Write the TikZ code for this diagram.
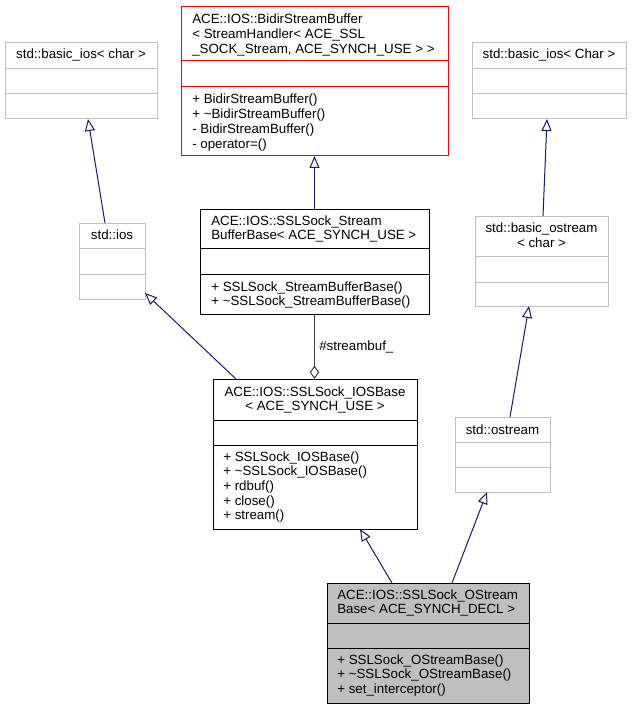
\documentclass[tikz,border=0pt]{standalone}
\usepackage{fontspec}
\setmainfont{Liberation Sans}
\usetikzlibrary{arrows.meta,calc,fit}
\definecolor{grayline}{HTML}{BFBFBF}
\definecolor{edgeblue}{HTML}{191970}
\definecolor{agggray}{HTML}{404040}
\definecolor{fillgray}{HTML}{BFBFBF}
\begin{document}
\begin{tikzpicture}[x=0.75pt,y=-0.75pt,
  box/.style={draw,inner sep=0pt,outer sep=0pt,line width=0.75pt},
  graybox/.style={box,draw=grayline},
  redbox/.style={box,draw=red},
  blackbox/.style={box,draw=black},
  hilite/.style={box,draw=black,fill=fillgray},
  txt/.style={inner sep=0pt,font=\fontsize{10}{11}\selectfont},
  ltxt/.style={txt,anchor=base west},
  ctxt/.style={txt,anchor=base},
  inh/.style={draw=edgeblue,line width=0.75pt,-{Triangle[open,length=9pt,width=7.5pt,fill=white]}},
  agg/.style={draw=agggray,line width=0.75pt,-{Diamond[open,length=10pt,width=7pt,fill=white]}}
]
\useasboundingbox (0,0) rectangle (632,709);

% std::basic_ios< char >
\node[graybox,fit={(5,43) (157,119)}] (bios) {};
\draw[grayline,line width=0.75pt] (bios.west |- 0,69) -- (bios.east |- 0,69);
\draw[grayline,line width=0.75pt] (bios.west |- 0,94) -- (bios.east |- 0,94);
\node[ctxt] (biost) at (81,59) {std::basic\_ios< char >};

% ACE::IOS::BidirStreamBuffer
\node[redbox,fit={(181,7) (448,156)}] (bidir) {};
\draw[red,line width=0.75pt] (bidir.west |- 0,61) -- (bidir.east |- 0,61);
\draw[red,line width=0.75pt] (bidir.west |- 0,87) -- (bidir.east |- 0,87);
\node[ltxt] (bidt1) at (192,24) {ACE::IOS::BidirStreamBuffer};
\node[ltxt] (bidt2) at (192,38.7) {< StreamHandler< ACE\_SSL};
\node[ltxt] (bidt3) at (192,53.4) {\_SOCK\_Stream, ACE\_SYNCH\_USE > >};
\node[ltxt] (bidm1) at (192,104) {+ BidirStreamBuffer()};
\node[ltxt] (bidm2) at (192,118.7) {+ \textasciitilde BidirStreamBuffer()};
\node[ltxt] (bidm3) at (192,133.4) {- BidirStreamBuffer()};
\node[ltxt] (bidm4) at (192,148.1) {- operator=()};

% std::basic_ios< Char >
\node[graybox,fit={(472,43) (626,119)}] (biosC) {};
\draw[grayline,line width=0.75pt] (biosC.west |- 0,69) -- (biosC.east |- 0,69);
\draw[grayline,line width=0.75pt] (biosC.west |- 0,94) -- (biosC.east |- 0,94);
\node[ctxt] (biosCt) at (549,59) {std::basic\_ios< Char >};

% SSLSock_StreamBufferBase
\node[blackbox,fit={(200,209) (429,314)}] (bufbase) {};
\draw[black,line width=0.75pt] (bufbase.west |- 0,248) -- (bufbase.east |- 0,248);
\draw[black,line width=0.75pt] (bufbase.west |- 0,274) -- (bufbase.east |- 0,274);
\node[ltxt] (bbt1) at (211,225) {ACE::IOS::SSLSock\_Stream};
\node[ltxt] (bbt2) at (211,239.7) {BufferBase< ACE\_SYNCH\_USE >};
\node[ltxt] (bbm1) at (211,291) {+ SSLSock\_StreamBufferBase()};
\node[ltxt] (bbm2) at (211,305.7) {+ \textasciitilde SSLSock\_StreamBufferBase()};

% std::ios
\node[graybox,fit={(79,223) (145,299)}] (ios) {};
\draw[grayline,line width=0.75pt] (ios.west |- 0,248) -- (ios.east |- 0,248);
\draw[grayline,line width=0.75pt] (ios.west |- 0,274) -- (ios.east |- 0,274);
\node[ctxt] (iost) at (112,239) {std::ios};

% std::basic_ostream< char >
\node[graybox,fit={(475,216) (608,306)}] (bostream) {};
\draw[grayline,line width=0.75pt] (bostream.west |- 0,256) -- (bostream.east |- 0,256);
\draw[grayline,line width=0.75pt] (bostream.west |- 0,282) -- (bostream.east |- 0,282);
\node[ctxt] (bost1) at (541.5,233) {std::basic\_ostream};
\node[ctxt] (bost2) at (541.5,247.7) {< char >};

% SSLSock_IOSBase
\node[blackbox,fit={(213,379) (417,529)}] (iosbase) {};
\draw[black,line width=0.75pt] (iosbase.west |- 0,420) -- (iosbase.east |- 0,420);
\draw[black,line width=0.75pt] (iosbase.west |- 0,445) -- (iosbase.east |- 0,445);
\node[ctxt] (ibt1) at (315,396) {ACE::IOS::SSLSock\_IOSBase};
\node[ctxt] (ibt2) at (315,410.7) {< ACE\_SYNCH\_USE >};
\node[ltxt] (ibm1) at (223,461) {+ SSLSock\_IOSBase()};
\node[ltxt] (ibm2) at (223,475.7) {+ \textasciitilde SSLSock\_IOSBase()};
\node[ltxt] (ibm3) at (223,490.4) {+ rdbuf()};
\node[ltxt] (ibm4) at (223,505.1) {+ close()};
\node[ltxt] (ibm5) at (223,519.8) {+ stream()};

% std::ostream
\node[graybox,fit={(455,417) (550,492)}] (ostream) {};
\draw[grayline,line width=0.75pt] (ostream.west |- 0,442) -- (ostream.east |- 0,442);
\draw[grayline,line width=0.75pt] (ostream.west |- 0,467) -- (ostream.east |- 0,467);
\node[ctxt] (ost) at (502.5,434) {std::ostream};

% SSLSock_OStreamBase (highlighted)
\node[hilite,fit={(327,583) (529,703)}] (osb) {};
\draw[black,line width=0.75pt] (osb.west |- 0,623) -- (osb.east |- 0,623);
\draw[black,line width=0.75pt] (osb.west |- 0,648) -- (osb.east |- 0,648);
\node[ltxt] (osbt1) at (337,599) {ACE::IOS::SSLSock\_OStream};
\node[ltxt] (osbt2) at (337,613.7) {Base< ACE\_SYNCH\_DECL >};
\node[ltxt] (osbm1) at (337,664) {+ SSLSock\_OStreamBase()};
\node[ltxt] (osbm2) at (337,678.7) {+ \textasciitilde SSLSock\_OStreamBase()};
\node[ltxt] (osbm3) at (337,693.4) {+ set\_interceptor()};

% connectors
\draw[inh] ($(ios.north)+(-7,0)$) -- ($(bios.south)+(7,0)$);
\draw[inh] (bufbase.north) -- (bidir.south);
\draw[inh] ($(bostream.north)+(1.5,0)$) -- ($(biosC.south)+(-2,0)$);
\draw[inh] ($(iosbase.north)+(-79,0)$) -- ($(ios.south east)+(0,-6)$);
\draw[agg] (bufbase.south) -- (bufbase.south |- iosbase.north);
\node[ltxt] (aggl) at (319,350) {\#streambuf\_};
\draw[inh] ($(osb.north)+(-36,0)$) -- ($(iosbase.south)+(45,0)$);
\draw[inh] ($(osb.north)+(24,0)$) -- ($(ostream.south)+(-15.5,0)$);
\draw[inh] ($(ostream.north)+(7.5,0)$) -- ($(bostream.south)+(-12.5,0)$);
\end{tikzpicture}
\end{document}
